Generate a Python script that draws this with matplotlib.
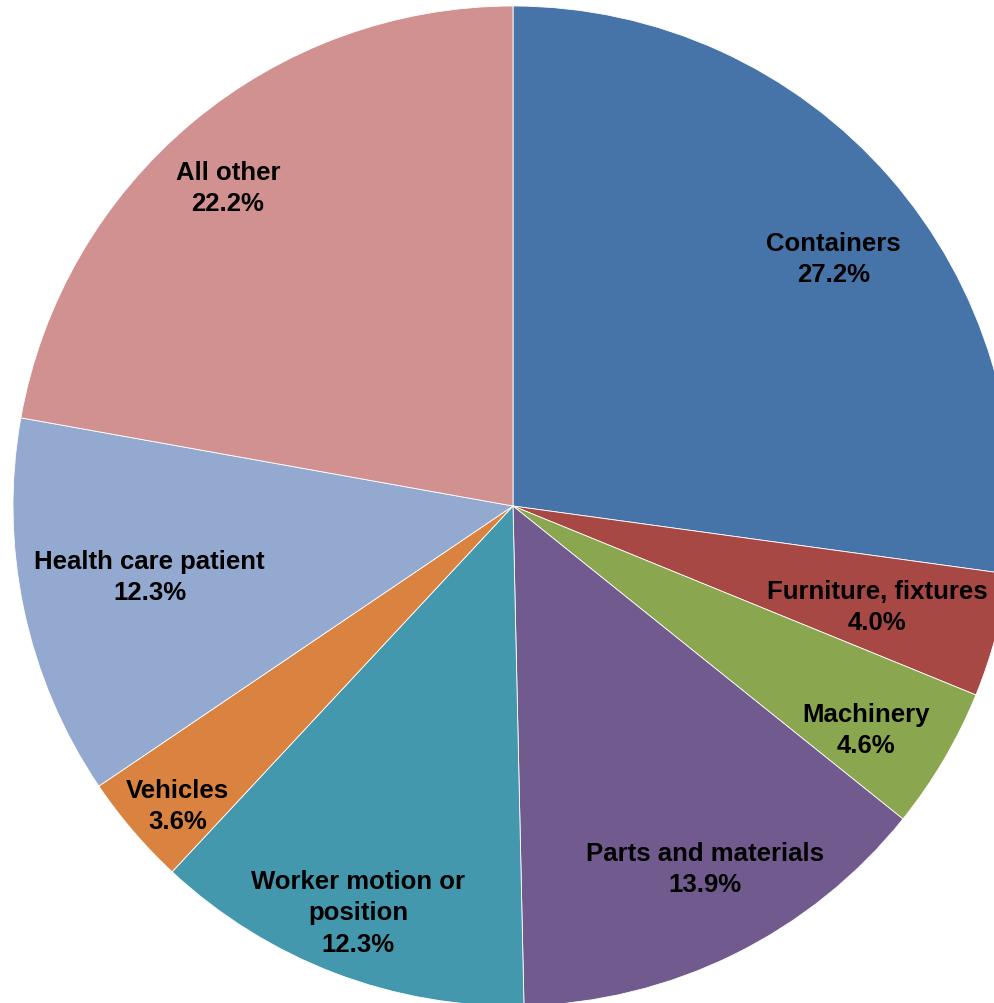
import numpy as np
import matplotlib
matplotlib.use("Agg")
import matplotlib.pyplot as plt

labels = ['Containers', 'Furniture, fixtures', 'Machinery', 'Parts and materials',
          'Worker motion or\nposition', 'Vehicles', 'Health care patient', 'All other']
values = [27.2, 4.0, 4.6, 13.9, 12.3, 3.6, 12.3, 22.2]
colors = ['#4674A8', '#A84845', '#8AA64E', '#715A8E',
          '#4398AE', '#DA8340', '#93A9CF', '#D19190']
# label placement: distance from centre (fraction of radius) and angular nudge (deg)
label_r = [0.81, 0.756, 0.836, 0.82, 0.87, 0.90, 0.74, 0.855]
label_da = [-3.4, -0.4, -1.8, 1.7, 0.0, 1.2, -1.0, 1.9]

plt.rcParams['font.family'] = ['Liberation Sans', 'DejaVu Sans']

W, H = 995, 1004
fig = plt.figure(figsize=(W / 100, H / 100), dpi=100)
ax = fig.add_axes([0, 0, 1, 1])

R = 500.0
cx, cy = 513.0, 497.0
wedges, _ = ax.pie(values, colors=colors, startangle=90, counterclock=False,
                   radius=1.0, wedgeprops=dict(edgecolor='white', linewidth=0.6))

for w, lab, v, r, da in zip(wedges, labels, values, label_r, label_da):
    ang = np.deg2rad((w.theta1 + w.theta2) / 2 + da)
    ax.text(r * np.cos(ang), r * np.sin(ang), f'{lab}\n{v:.1f}%',
            ha='center', va='center', fontsize=18.5, fontweight='bold',
            linespacing=1.38)

ax.set_xlim(-cx / R, (W - cx) / R)
ax.set_ylim(-cy / R, (H - cy) / R)
ax.set_aspect('auto')
ax.axis('off')

fig.savefig('out.png', dpi=100)
